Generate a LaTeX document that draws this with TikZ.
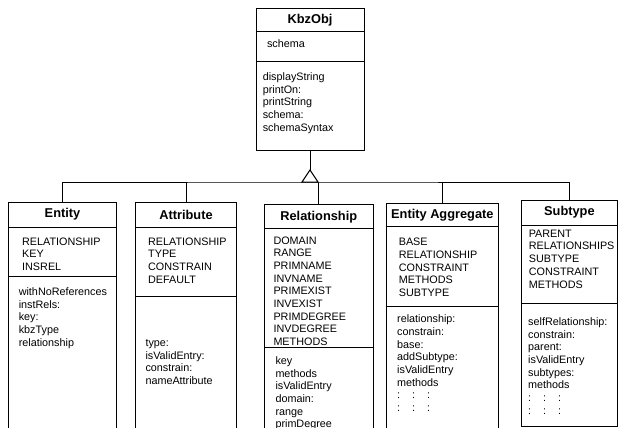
\documentclass[tikz,border=0pt]{standalone}
\usepackage{fontspec}
\setmainfont{Liberation Sans}
\usetikzlibrary{positioning}

\tikzset{
	classbox/.style={draw, line width=1pt, inner sep=0pt, outer sep=0pt, anchor=north west},
	classname/.style={font=\fontsize{12.8}{14}\selectfont\bfseries, inner sep=0pt},
	fields/.style={font=\fontsize{10.8}{12.7}\selectfont, align=left, anchor=north west, inner sep=0pt},
}
\newcommand{\moredots}{:\hspace{12pt}:\hspace{12pt}:}

\begin{document}
\begin{tikzpicture}[x=1pt,y=-1pt,line width=1pt]
	\useasboundingbox (0,0) rectangle (619,428);
	%KbzObj
	\node[classbox, minimum width=108, minimum height=141] (kbz) at (256,9) {};
	\draw (kbz.west |- 0,31.5) -- (kbz.east |- 0,31.5);
	\draw (kbz.west |- 0,62) -- (kbz.east |- 0,62);
	\node[classname] (kbzT) at (kbz.north |- 0,20.5) {KbzObj};
	\node[fields] (kbzA) at (266.5,38.7) {schema};
	\node[fields] (kbzM) at (262.3,72) {displayString\\printOn:\\printString\\schema:\\schemaSyntax};
	%Entity
	\node[classbox, minimum width=108, minimum height=240] (entity) at (8.5,202) {};
	\draw (entity.west |- 0,227) -- (entity.east |- 0,227);
	\draw (entity.west |- 0,276) -- (entity.east |- 0,276);
	\node[classname] (entityT) at (entity.north |- 0,214) {Entity};
	\node[fields] (entityA) at (21.7,237) {RELATIONSHIP\\KEY\\INSREL};
	\node[fields] (entityM) at (18.3,287) {withNoReferences\\instRels:\\key:\\kbzType\\relationship};
	%Attribute
	\node[classbox, minimum width=100.6, minimum height=240] (attribute) at (135.7,202.7) {};
	\draw (attribute.west |- 0,227.3) -- (attribute.east |- 0,227.3);
	\draw (attribute.west |- 0,296) -- (attribute.east |- 0,296);
	\node[classname] (attributeT) at (attribute.north |- 0,214.5) {Attribute};
	\node[fields] (attributeA) at (147.7,237) {RELATIONSHIP\\TYPE\\CONSTRAIN\\DEFAULT};
	\node[fields] (attributeM) at (145,339) {type:\\isValidEntry:\\constrain:\\nameAttribute};
	%Relationship
	\node[classbox, minimum width=108.5, minimum height=240] (relationship) at (264.5,204) {};
	\draw (relationship.west |- 0,228.3) -- (relationship.east |- 0,228.3);
	\draw (relationship.west |- 0,347.3) -- (relationship.east |- 0,347.3);
	\node[classname] (relationshipT) at (relationship.north |- 0,217.5) {Relationship};
	\node[fields] (relationshipA) at (273,236) {DOMAIN\\RANGE\\PRIMNAME\\INVNAME\\PRIMEXIST\\INVEXIST\\PRIMDEGREE\\INVDEGREE\\METHODS};
	\node[fields] (relationshipM) at (275,356) {key\\methods\\isValidEntry\\domain:\\range\\primDegree};
	%Entity Aggregate
	\node[classbox, minimum width=111.3, minimum height=240] (aggregate) at (386.7,203.3) {};
	\draw (aggregate.west |- 0,226.7) -- (aggregate.east |- 0,226.7);
	\draw (aggregate.west |- 0,306) -- (aggregate.east |- 0,306);
	\node[classname] (aggregateT) at (aggregate.north |- 0,215) {Entity Aggregate};
	\node[fields] (aggregateA) at (398.3,237.7) {BASE\\RELATIONSHIP\\CONSTRAINT\\METHODS\\SUBTYPE};
	\node[fields] (aggregateM) at (396.7,314.3) {relationship:\\constrain:\\base:\\addSubtype:\\isValidEntry\\methods\\\moredots\\\moredots};
	%Subtype
	\node[classbox, minimum width=96.8, minimum height=226.5] (subtype) at (521,200) {};
	\draw (subtype.west |- 0,225) -- (subtype.east |- 0,225);
	\draw (subtype.west |- 0,303.3) -- (subtype.east |- 0,303.3);
	\node[classname] (subtypeT) at (subtype.north |- 0,212) {Subtype};
	\node[fields] (subtypeA) at (528.3,229.3) {PARENT\\RELATIONSHIPS\\SUBTYPE\\CONSTRAINT\\METHODS};
	\node[fields] (subtypeM) at (527.7,317) {selfRelationship:\\constrain:\\parent:\\isValidEntry\\subtypes:\\methods\\\moredots\\\moredots};
	%inheritance
	\coordinate (tip) at (310,170);
	\coordinate (bus) at (310,182);
	\draw (kbz.south) -- (tip);
	\draw (tip) -- ++(-8,12) -- ++(16,0) -- cycle;
	\draw (entity.north) |- (bus) -| (subtype.north);
	\draw (attribute.north) -- (attribute.north |- bus);
	\draw (relationship.north) -- (relationship.north |- bus);
	\draw (aggregate.north) -- (aggregate.north |- bus);
\end{tikzpicture}
\end{document}
